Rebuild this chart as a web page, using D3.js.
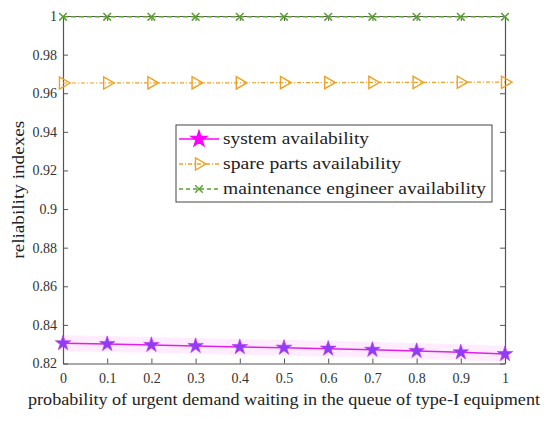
<!DOCTYPE html>
<html>
<head>
<meta charset="utf-8" />
<title>reliability indexes</title>
<style>
    body { margin: 0; background: #fff; }
</style>
</head>
<body>
<svg width="550" height="425"></svg>

<script src="https://cdn.jsdelivr.net/npm/d3@7/dist/d3.min.js"></script>
<script>

    var probabilites = [0, 0.1, 0.2, 0.3, 0.4, 0.5, 0.6, 0.7, 0.8, 0.9, 1];
    var systeme = [0.8305, 0.8301, 0.8296, 0.8291, 0.8285, 0.8282, 0.8277, 0.8271, 0.8265, 0.8258, 0.8249];
    var pieces = [0.9653, 0.9653, 0.9654, 0.9654, 0.9654, 0.9655, 0.9655, 0.9656, 0.9656, 0.9657, 0.9657];
    var ingenieur = [0.9996, 0.9996, 0.9996, 0.9996, 0.9996, 0.9996, 0.9996, 0.9996, 0.9996, 0.9996, 0.9996];
    var ticksY = [0.82, 0.84, 0.86, 0.88, 0.9, 0.92, 0.94, 0.96, 0.98, 1];
    var noms = ['system availability', 'spare parts availability', 'maintenance engineer availability'];

    var police = "'Liberation Serif', 'Times New Roman', Times, serif";
    var gauche = 63, droite = 505, haut = 16, bas = 363.5;

    var x = d3.scaleLinear().domain([0, 1]).range([gauche, droite]);
    var y = d3.scaleLinear().domain([0.82, 1]).range([bas, haut]);

    var svg = d3.select('svg');

    // axes, ticks pointing inwards
    var axeBas = svg.append('g').attr('transform', 'translate(0,' + bas + ')')
        .call(d3.axisBottom(x).tickValues(probabilites).tickSizeInner(-5).tickSizeOuter(0)
            .tickFormat(function (d) { return String(d); }));
    var axeGauche = svg.append('g').attr('transform', 'translate(' + gauche + ',0)')
        .call(d3.axisLeft(y).tickValues(ticksY).tickSizeInner(-5).tickSizeOuter(0)
            .tickFormat(function (d) { return String(+d.toFixed(2)); }));
    svg.append('g').attr('transform', 'translate(' + droite + ',0)')
        .call(d3.axisRight(y).tickValues(ticksY).tickSizeInner(-5).tickSizeOuter(0).tickFormat(''));
    svg.append('g').attr('transform', 'translate(0,' + haut + ')')
        .call(d3.axisTop(x).tickValues(probabilites).tickSizeInner(-5).tickSizeOuter(0).tickFormat(''));

    svg.selectAll('.domain').attr('stroke', '#555').attr('stroke-width', 1.2);
    svg.selectAll('.tick line').attr('stroke', '#555');
    axeBas.selectAll('text').attr('font-size', 14).attr('dy', 0).attr('y', 19).attr('fill', '#333');
    axeGauche.selectAll('text').attr('font-size', 14).attr('x', -6).attr('fill', '#333');

    // axis titles
    svg.append('text')
        .attr('x', 284).attr('y', 405)
        .attr('text-anchor', 'middle')
        .attr('font-size', 16).attr('fill', '#222')
        .attr('textLength', 512).attr('lengthAdjust', 'spacingAndGlyphs')
        .text('probability of urgent demand waiting in the queue of type-I equipment');
    svg.append('text')
        .attr('transform', 'translate(24,' + ((haut + bas) / 2) + ') rotate(-90)')
        .attr('text-anchor', 'middle')
        .attr('font-size', 16).attr('fill', '#222')
        .attr('textLength', 138).attr('lengthAdjust', 'spacingAndGlyphs')
        .text('reliability indexes');

    var ligne = function (valeurs) {
        return d3.line()
            .x(function (d, i) { return x(probabilites[i]); })
            .y(function (d) { return y(d); })(valeurs);
    };

    var etoile = d3.symbol().type(d3.symbolStar).size(75);
    var croix = d3.symbol().type(d3.symbolX).size(40);
    var triangle = d3.symbol().type(d3.symbolTriangle).size(65);

    // pale halo behind system availability
    svg.append('path').attr('d', ligne(systeme))
        .attr('fill', 'none').attr('stroke', '#ff00ff').attr('stroke-opacity', 0.07).attr('stroke-width', 16);

    // maintenance engineer
    svg.append('path').attr('d', ligne(ingenieur))
        .attr('fill', 'none').attr('stroke', '#5aa02c').attr('stroke-width', 1.4).attr('stroke-dasharray', '5,3');
    svg.append('g').selectAll('path').data(ingenieur).enter().append('path')
        .attr('d', croix)
        .attr('transform', function (d, i) { return 'translate(' + x(probabilites[i]) + ',' + y(d) + ')'; })
        .attr('fill', 'none').attr('stroke', '#5aa02c').attr('stroke-width', 1.5);

    // spare parts
    svg.append('path').attr('d', ligne(pieces))
        .attr('fill', 'none').attr('stroke', '#f0a020').attr('stroke-width', 1.2).attr('stroke-dasharray', '4,2,1,2');
    svg.append('g').selectAll('path').data(pieces).enter().append('path')
        .attr('d', triangle)
        .attr('transform', function (d, i) { return 'translate(' + x(probabilites[i]) + ',' + y(d) + ') rotate(90)'; })
        .attr('fill', 'none').attr('stroke', '#f0a020').attr('stroke-width', 1.4);

    // system
    svg.append('path').attr('d', ligne(systeme))
        .attr('fill', 'none').attr('stroke', '#e020e8').attr('stroke-width', 1.5);
    svg.append('g').selectAll('path').data(systeme).enter().append('path')
        .attr('d', etoile)
        .attr('transform', function (d, i) { return 'translate(' + x(probabilites[i]) + ',' + y(d) + ')'; })
        .attr('fill', '#8f3cf5').attr('stroke', '#c030f0').attr('stroke-width', 0.6);

    // legend
    var legende = svg.append('g');
    legende.append('rect')
        .attr('x', 176).attr('y', 125).attr('width', 316).attr('height', 77)
        .attr('fill', '#fff').attr('stroke', '#444').attr('stroke-width', 1);

    var styles = [
        { couleur: '#ff00ff', tirets: null, forme: etoile, rot: 0, plein: true, largeur: 146 },
        { couleur: '#f0a020', tirets: '4,2,1,2', forme: triangle, rot: 90, plein: false, largeur: 178 },
        { couleur: '#5aa02c', tirets: '4,3', forme: croix, rot: 0, plein: false, largeur: 263 }
    ];
    noms.forEach(function (nom, i) {
        var yy = 139 + i * 25;
        var s = styles[i];
        legende.append('line')
            .attr('x1', 179).attr('x2', 219).attr('y1', yy).attr('y2', yy)
            .attr('stroke', s.couleur).attr('stroke-width', 1.4)
            .attr('stroke-dasharray', s.tirets);
        legende.append('path')
            .attr('d', s.forme)
            .attr('transform', 'translate(199,' + yy + ') rotate(' + s.rot + ')')
            .attr('fill', s.plein ? s.couleur : 'none')
            .attr('stroke', s.couleur)
            .attr('stroke-width', 1.4);
        legende.append('text')
            .attr('x', 223).attr('y', yy + 5)
            .attr('font-size', 17).attr('fill', '#222')
            .attr('textLength', s.largeur).attr('lengthAdjust', 'spacingAndGlyphs')
            .text(nom);
    });

    // every label in the same serif face
    svg.selectAll('text').attr('font-family', police).style('font-family', police);
</script>
</body>
</html>
